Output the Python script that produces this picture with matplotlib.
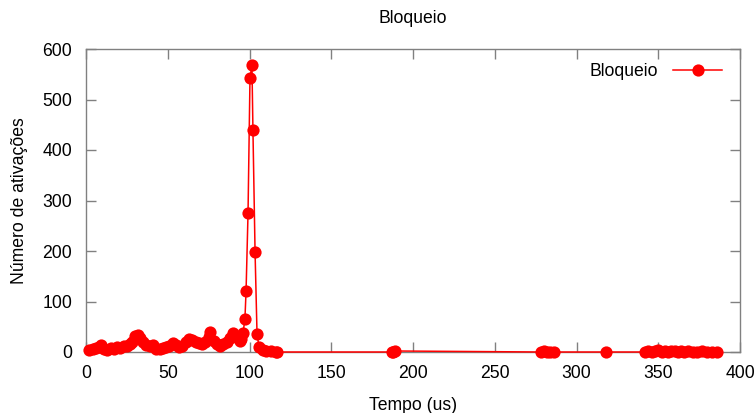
import matplotlib
matplotlib.use("Agg")
import matplotlib.pyplot as plt

plt.rcParams['font.family'] = ['Liberation Sans', 'DejaVu Sans']

title = "Bloqueio"
series_label = "Bloqueio"
x_label = "Tempo (us)"
y_label = "Número de ativações"

tempo = [2, 4, 6, 8, 9, 11, 13, 15, 17, 19, 21, 23, 25, 27, 28, 30, 32, 33, 35, 37, 39, 41,
         43, 45, 47, 49, 51, 53, 55, 57, 59, 61, 63, 65, 67, 69, 71, 73, 75, 76, 78, 80,
         82, 84, 86, 88, 90, 92, 94, 95, 96, 97.2, 97.9, 99.1, 100.3, 101.5, 102.1, 103.4,
         104.6, 105.8, 108, 110, 113, 116, 117,
         187, 188, 189,
         278, 280, 282, 284, 286,
         318,
         342, 344, 346, 348, 350, 352, 354, 356, 358, 360, 362, 364, 366, 368, 371,
         374, 377, 380, 383, 386]
ativacoes = [3, 6, 8, 10, 14, 5, 3, 7, 6, 9, 8, 11, 12, 16, 20, 32, 33, 27, 20, 14, 12, 13,
             5, 6, 8, 10, 12, 18, 13, 10, 12, 20, 25, 23, 20, 17, 15, 19, 30, 40, 22, 15,
             12, 15, 20, 27, 37, 30, 22, 25, 37, 65, 121, 275, 543, 568, 440, 198,
             36, 10, 4, 2, 1, 0, 0,
             0, 0, 2,
             0, 1, 0, 0, 0,
             0,
             0, 1, 0, 2, 4, 0, 1, 0, 2, 1, 0, 2, 0, 1, 0,
             0, 1, 0, 0, 0]

fig = plt.figure(figsize=(7.55, 4.13), dpi=100)
ax = fig.add_axes([86/755, 1-352/413, (740-86)/755, (352-49)/413])

ax.plot(tempo, ativacoes, color='#ff0000', lw=1.1, marker='o', markersize=8.8,
        markeredgewidth=0, label=series_label, clip_on=False, zorder=3)

ax.set_xlim(0, 400)
ax.set_ylim(0, 600)
ax.set_xticks(range(0, 401, 50))
ax.set_yticks(range(0, 601, 100))

fs = 12.7
grey = '#808080'
for s in ax.spines.values():
    s.set_color(grey)
    s.set_linewidth(1)
ax.tick_params(direction='in', length=7, width=1, color=grey, labelsize=fs,
               top=True, right=True)
ax.tick_params(axis='y', pad=10)
ax.tick_params(axis='x', pad=9)

ax.set_title(title, fontsize=fs, pad=19)
ax.set_xlabel(x_label, fontsize=fs, labelpad=11.5)
ax.set_ylabel(y_label, fontsize=fs, labelpad=10)

leg = ax.legend(loc='upper right', frameon=False, markerfirst=False, fontsize=fs,
                handlelength=2.8, handletextpad=0.85, borderaxespad=0.3,
                bbox_to_anchor=(0.992, 0.995))

fig.savefig('out.png', dpi=100)
